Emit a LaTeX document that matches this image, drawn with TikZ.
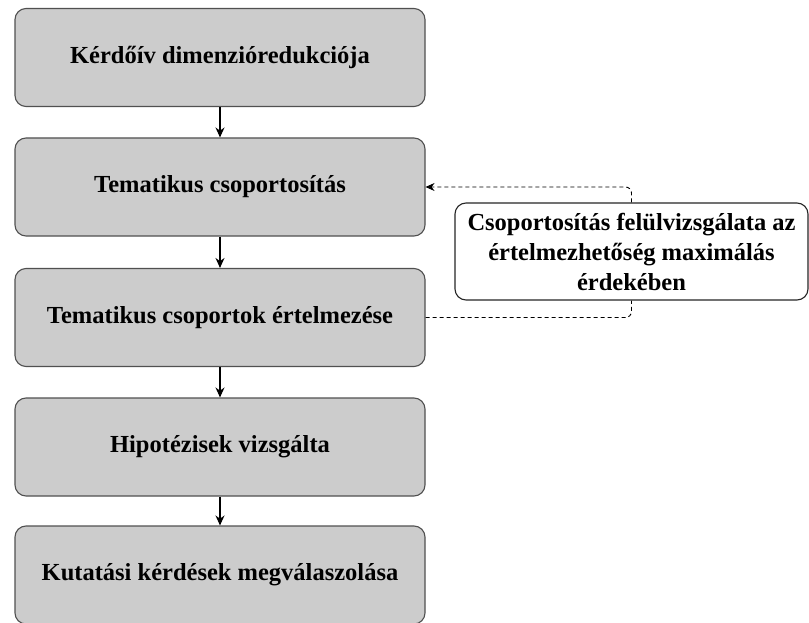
\documentclass[tikz,border=0pt]{standalone}
\usepackage{fontspec}
\setmainfont{Liberation Serif}
\usetikzlibrary{arrows.meta}
\definecolor{boxfill}{HTML}{CCCCCC}
\definecolor{boxline}{HTML}{505050}
\begin{document}
\begin{tikzpicture}[x=1pt,y=-1pt,
  mainbox/.style={draw=boxline, fill=boxfill, rounded corners=11pt, line width=1.1pt,
    minimum width=410pt, minimum height=98pt, inner sep=0pt,
    font=\fontsize{24.5}{28}\selectfont\bfseries, align=center},
  sidebox/.style={draw=black!85, fill=white, rounded corners=11pt, line width=1.1pt,
    minimum width=353pt, minimum height=97pt, inner sep=0pt,
    font=\fontsize{24.5}{30}\selectfont\bfseries, align=center},
  flow/.style={draw=black, line width=1.1pt, -{Stealth[length=10pt,width=9pt]}},
  fb/.style={draw=black, line width=0.9pt, dash pattern=on 4pt off 3pt, rounded corners=6pt}
]
\useasboundingbox (0,0) rectangle (809,623);
\node[mainbox] (b1) at (220,57.5) {Kérdőív dimenzióredukciója};
\node[mainbox] (b2) at (220,187) {Tematikus csoportosítás};
\node[mainbox] (b3) at (220,317.5) {Tematikus csoportok értelmezése};
\node[mainbox] (b4) at (220,447) {Hipotézisek vizsgálta};
\node[mainbox] (b5) at (220,575) {Kutatási kérdések megválaszolása};
\node[sidebox] (s) at (631.5,251.5) {Csoportosítás felülvizsgálata az\\értelmezhetőség maximálás\\érdekében};
\draw[flow] (b1) -- (b2);
\draw[flow] (b2) -- (b3);
\draw[flow] (b3) -- (b4);
\draw[flow] (b4) -- (b5);
\draw[fb, -{Stealth[length=9pt,width=8pt]}] (s.north) |- (b2.east);
\draw[fb] (b3.east) -| (s.south);
\end{tikzpicture}
\end{document}
